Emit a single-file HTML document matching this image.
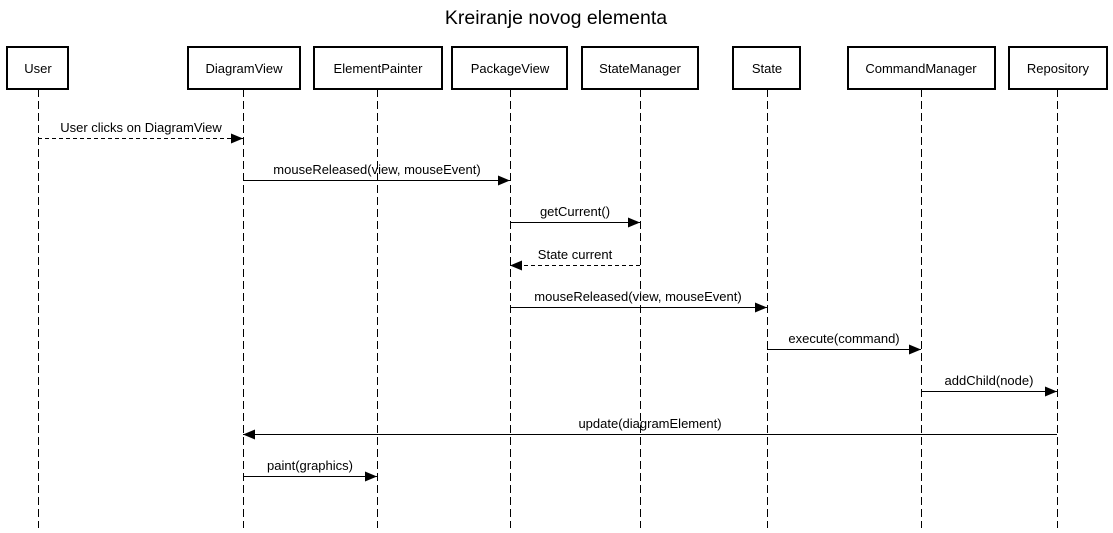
<!DOCTYPE html>
<html><head><style>
html,body{margin:0;padding:0;background:#fff;}
svg text{font-family:"Liberation Sans",Arial,sans-serif;font-size:13px;fill:#000;}
</style></head><body>
<svg width="1113" height="528" viewBox="0 0 1113 528" xmlns="http://www.w3.org/2000/svg">
<defs>
<marker id="a" markerWidth="12" markerHeight="10" refX="12" refY="5" orient="auto" markerUnits="userSpaceOnUse">
<path d="M0,0 L12,5 L0,10 Z" fill="#000"/></marker>
</defs>
<text x="556" y="24" text-anchor="middle" style="font-size:19.5px">Kreiranje novog elementa</text>
<g stroke="#000" stroke-width="1" stroke-dasharray="8,4" fill="none">
<line x1="38.5" y1="89" x2="38.5" y2="528"/>
<line x1="243.5" y1="89" x2="243.5" y2="528"/>
<line x1="377.5" y1="89" x2="377.5" y2="528"/>
<line x1="510.5" y1="89" x2="510.5" y2="528"/>
<line x1="640.5" y1="89" x2="640.5" y2="528"/>
<line x1="767.5" y1="89" x2="767.5" y2="528"/>
<line x1="921.5" y1="89" x2="921.5" y2="528"/>
<line x1="1057.5" y1="89" x2="1057.5" y2="528"/>
</g>
<g stroke="#000" stroke-width="2" fill="#fff">
<rect x="7" y="47" width="61" height="42"/>
<rect x="188" y="47" width="112" height="42"/>
<rect x="314" y="47" width="128" height="42"/>
<rect x="452" y="47" width="115" height="42"/>
<rect x="582" y="47" width="116" height="42"/>
<rect x="733" y="47" width="67" height="42"/>
<rect x="848" y="47" width="147" height="42"/>
<rect x="1009" y="47" width="98" height="42"/>
</g>
<g text-anchor="middle">
<text x="38" y="73">User</text>
<text x="244" y="73">DiagramView</text>
<text x="378" y="73">ElementPainter</text>
<text x="510" y="73">PackageView</text>
<text x="640" y="73">StateManager</text>
<text x="767" y="73">State</text>
<text x="921" y="73">CommandManager</text>
<text x="1058" y="73">Repository</text>
</g>
<g stroke="#000" stroke-width="1" fill="none" marker-end="url(#a)">
<line x1="38" y1="138.5" x2="243" y2="138.5" stroke-dasharray="4,3"/>
<line x1="243" y1="180.5" x2="510" y2="180.5"/>
<line x1="510" y1="222.5" x2="640" y2="222.5"/>
<line x1="640" y1="265.5" x2="510" y2="265.5" stroke-dasharray="4,3"/>
<line x1="510" y1="307.5" x2="767" y2="307.5"/>
<line x1="767" y1="349.5" x2="921" y2="349.5"/>
<line x1="921" y1="391.5" x2="1057" y2="391.5"/>
<line x1="1057" y1="434.5" x2="243" y2="434.5"/>
<line x1="243" y1="476.5" x2="377" y2="476.5"/>
</g>
<g text-anchor="middle">
<text x="141" y="132">User clicks on DiagramView</text>
<text x="377" y="174">mouseReleased(view, mouseEvent)</text>
<text x="575" y="216">getCurrent()</text>
<text x="575" y="259">State current</text>
<text x="638" y="301">mouseReleased(view, mouseEvent)</text>
<text x="844" y="343">execute(command)</text>
<text x="989" y="385">addChild(node)</text>
<text x="650" y="428">update(diagramElement)</text>
<text x="310" y="470">paint(graphics)</text>
</g>
</svg>
</body></html>
